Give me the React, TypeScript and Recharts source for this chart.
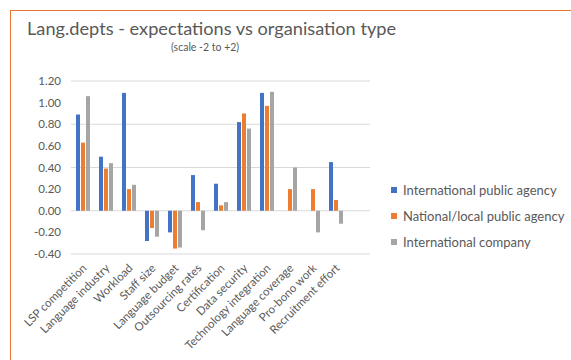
import React from "react";
import { BarChart, Bar, XAxis, YAxis, CartesianGrid } from "recharts";

// Category labels (the trailing blank slot keeps the axis width as drawn)
const categories = [
  "LSP competition",
  "Language industry",
  "Workload",
  "Staff size",
  "Language budget",
  "Outsourcing rates",
  "Certification",
  "Data security",
  "Technology integration",
  "Language coverage",
  "Pro-bono work",
  "Recruitment effort",
  "",
];

const intlPublicAgency = [0.89, 0.5, 1.09, -0.28, -0.2, 0.33, 0.25, 0.82, 1.09, null, null, 0.45, null];
const nationalPublicAgency = [0.63, 0.39, 0.2, -0.16, -0.35, 0.08, 0.05, 0.9, 0.97, 0.2, 0.2, 0.1, null];
const intlCompany = [1.06, 0.44, 0.24, -0.24, -0.34, -0.18, 0.08, 0.76, 1.1, 0.4, -0.2, -0.12, null];

const yTicks = [-0.4, -0.2, 0, 0.2, 0.4, 0.6, 0.8, 1.0, 1.2];

const seriesNames = [
  "International public agency",
  "National/local public agency",
  "International company",
];
const seriesColors = ["#4472C4", "#ED7D31", "#A5A5A5"];

const data = categories.map((name, i) => ({
  name,
  a: intlPublicAgency[i],
  b: nationalPublicAgency[i],
  c: intlCompany[i],
}));

const FONT = "Lato, 'Open Sans', sans-serif";
const TEXT = "#595959";

const XTick = (props: any) => {
  const { x, y, payload } = props;
  if (!payload.value) return null;
  const tx = x + 2;
  const ty = y + 4;
  return (
    <text
      x={tx}
      y={ty}
      dy="0.35em"
      transform={`rotate(-45 ${tx} ${ty})`}
      textAnchor="end"
      fill={TEXT}
      fontSize={11.5}
      fontFamily={FONT}
    >
      {payload.value}
    </text>
  );
};

const LegendBox = () => (
  <div
    style={{
      position: "absolute",
      left: 391,
      top: 177,
      fontFamily: FONT,
      fontSize: 13,
      color: TEXT,
    }}
  >
    {seriesNames.map((n, i) => (
      <div
        key={n}
        style={{ display: "flex", alignItems: "center", height: 26, whiteSpace: "nowrap" }}
      >
        <span
          style={{
            display: "inline-block",
            width: 6,
            height: 6,
            background: seriesColors[i],
            marginRight: 6,
          }}
        />
        {n}
      </div>
    ))}
  </div>
);

export default function App() {
  return (
    <div
      style={{
        position: "absolute",
        left: 0,
        top: 0,
        width: 571,
        height: 360,
        background: "#fff",
        overflow: "hidden",
      }}
    >
      <div
        style={{
          position: "absolute",
          left: 10,
          top: 10,
          width: 570,
          height: 360,
          borderTop: "1.5px solid #E8782F",
          borderLeft: "1.5px solid #E8782F",
        }}
      />
      <div
        style={{
          position: "absolute",
          left: 27,
          top: 17,
          fontFamily: FONT,
          fontSize: 18.2,
          color: TEXT,
          whiteSpace: "nowrap",
        }}
      >
        Lang.depts - expectations vs organisation type
      </div>
      <div
        style={{
          position: "absolute",
          left: 171,
          top: 41,
          fontFamily: FONT,
          fontSize: 10.5,
          color: TEXT,
          whiteSpace: "nowrap",
        }}
      >
        (scale -2 to +2)
      </div>
      <div style={{ position: "absolute", left: 0, top: 0 }}>
        <BarChart
          width={571}
          height={360}
          data={data}
          margin={{ top: 81, right: 201, bottom: 0, left: 0 }}
          barSize={4}
          barGap={1}
        >
          <CartesianGrid vertical={false} stroke="#D9D9D9" />
          <XAxis
            dataKey="name"
            interval={0}
            height={106}
            axisLine={false}
            tickLine={false}
            tick={<XTick />}
          />
          <YAxis
            width={71}
            domain={[-0.4, 1.2]}
            ticks={yTicks}
            axisLine={false}
            tickLine={false}
            tickSize={6}
            tickMargin={4}
            tickFormatter={(v: number) => v.toFixed(2)}
            tick={{ fill: TEXT, fontSize: 11.5, fontFamily: FONT }}
          />
          <Bar dataKey="a" name={seriesNames[0]} fill={seriesColors[0]} isAnimationActive={false} />
          <Bar dataKey="b" name={seriesNames[1]} fill={seriesColors[1]} isAnimationActive={false} />
          <Bar dataKey="c" name={seriesNames[2]} fill={seriesColors[2]} isAnimationActive={false} />
        </BarChart>
      </div>
      <LegendBox />
    </div>
  );
}
